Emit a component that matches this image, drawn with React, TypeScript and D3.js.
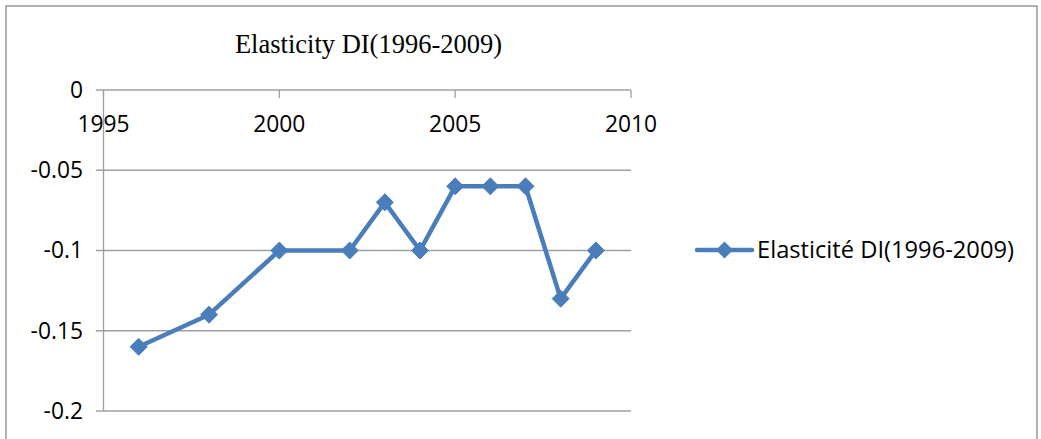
import React from "react";
import * as d3 from "d3";

const years = [1996, 1998, 2000, 2002, 2003, 2004, 2005, 2006, 2007, 2008, 2009];
const values = [-0.16, -0.14, -0.1, -0.1, -0.07, -0.1, -0.06, -0.06, -0.06, -0.13, -0.1];
const xTicks = [1995, 2000, 2005, 2010];
const yTicks = [0, -0.05, -0.1, -0.15, -0.2];
const yTickLabels = ["0", "-0.05", "-0.1", "-0.15", "-0.2"];
const title = "Elasticity DI(1996-2009)";
const seriesName = "Elasticité DI(1996-2009)";

const W = 1041;
const H = 439;
const COLOR = "#4A7EBB";
const GRID = "#A0A0A0";
const FONT = "'Open Sans', 'Liberation Sans', sans-serif";
const FS = 22.8;

export default function App() {
  const x = d3.scaleLinear().domain([1995, 2010]).range([103.5, 631]);
  const y = d3.scaleLinear().domain([0, -0.2]).range([90, 411]);
  const line = d3
    .line<number>()
    .x((_, i) => x(years[i]))
    .y((d) => y(d));
  const diamond = (cx: number, cy: number, r: number) =>
    `M${cx},${cy - r}L${cx + r},${cy}L${cx},${cy + r}L${cx - r},${cy}Z`;

  return (
    <svg
      width={W}
      height={H}
      style={{ position: "absolute", left: 0, top: 0, background: "#fff" }}
    >
      <rect x={6} y={6} width={1031} height={H} fill="#fff" stroke="#888" strokeWidth={1.3} />
      <text
        x={368.5}
        y={53}
        textAnchor="middle"
        fontFamily="'Liberation Serif', 'Times New Roman', serif"
        fontSize={26.5}
        fill="#000"
      >
        {title}
      </text>
      {yTicks.map((t, i) => (
        <g key={i}>
          <line x1={96} x2={631} y1={y(t)} y2={y(t)} stroke={GRID} strokeWidth={1.3} />
          <text
            x={83}
            y={y(t)}
            dy="0.35em"
            textAnchor="end"
            fontFamily={FONT}
            fontSize={FS}
            fill="#000"
          >
            {yTickLabels[i]}
          </text>
        </g>
      ))}
      <line x1={x(1995)} x2={x(1995)} y1={y(0)} y2={y(-0.2)} stroke={GRID} strokeWidth={1.3} />
      {xTicks.map((t) => (
        <g key={t}>
          <line x1={x(t)} x2={x(t)} y1={y(0)} y2={y(0) + 8} stroke={GRID} strokeWidth={1.3} />
          <text
            x={x(t)}
            y={y(0) + 42}
            textAnchor="middle"
            fontFamily={FONT}
            fontSize={FS}
            fill="#000"
          >
            {t}
          </text>
        </g>
      ))}
      <path
        d={line(values) || ""}
        fill="none"
        stroke={COLOR}
        strokeWidth={4.5}
        strokeLinejoin="round"
      />
      {values.map((v, i) => (
        <path key={i} d={diamond(x(years[i]), y(v), 8.5)} fill={COLOR} stroke={COLOR} strokeWidth={1} />
      ))}
      <line x1={697} x2={752} y1={250} y2={250} stroke={COLOR} strokeWidth={4.5} strokeLinecap="round" />
      <path d={diamond(724.5, 250, 8.5)} fill={COLOR} />
      <text x={757} y={250} dy="0.35em" fontFamily={FONT} fontSize={23.7} fill="#000">
        {seriesName}
      </text>
    </svg>
  );
}
